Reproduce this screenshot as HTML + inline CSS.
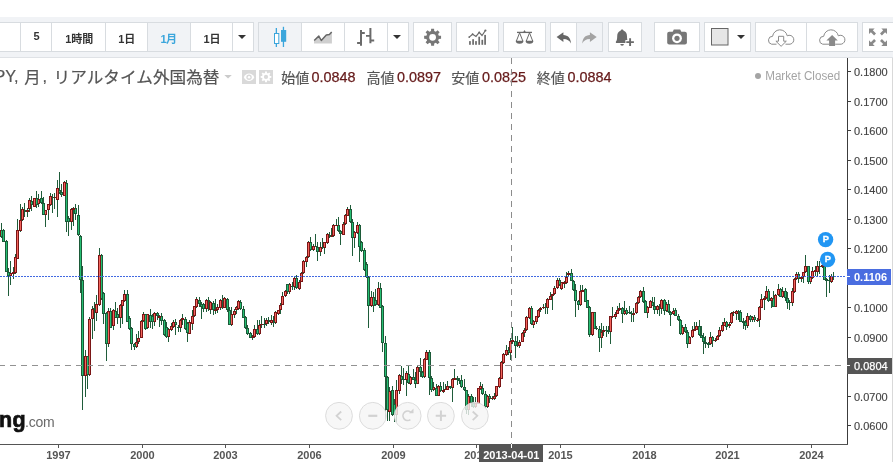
<!DOCTYPE html>
<html><head><meta charset="utf-8"><title>chart</title>
<style>
html,body{margin:0;padding:0;background:#fff;}
body{width:893px;height:462px;overflow:hidden;position:relative;font-family:"Liberation Sans","Noto Sans CJK JP",sans-serif;}
#tb{position:absolute;left:0;top:17px;width:893px;height:41px;background:#f1f3f6;border-bottom:1px solid #dfe2e6;box-sizing:border-box;}
.g{position:absolute;top:5px;height:30px;box-sizing:border-box;border:1px solid #d8dce0;background:#fff;}
.sp{position:absolute;top:0;width:1px;height:28px;background:#d8dce0;}
.sel{position:absolute;top:0;height:28px;background:#f1f3f6;}
svg{position:absolute;left:0;top:0;will-change:transform;}
svg text{font-family:"Liberation Sans","Noto Sans CJK JP",sans-serif;}
.tb{font-size:11px;font-weight:bold;}
</style></head><body>
<div id="tb">
<div class="g" style="left:-10px;width:264px"><div class="sel" style="left:157px;width:42px"></div><div class="sp" style="left:29px"></div><div class="sp" style="left:60px"></div><div class="sp" style="left:114px"></div><div class="sp" style="left:156px"></div><div class="sp" style="left:199px"></div><div class="sp" style="left:241px"></div></div>
<div class="g" style="left:258px;width:151px"><div class="sel" style="left:0px;width:42px"></div><div class="sp" style="left:42px"></div><div class="sp" style="left:85px"></div><div class="sp" style="left:128px"></div></div>
<div class="g" style="left:413px;width:39px"></div>
<div class="g" style="left:456px;width:43px"></div>
<div class="g" style="left:503px;width:43px"></div>
<div class="g" style="left:550px;width:53px"><div class="sel" style="left:26px;width:25px"></div><div class="sp" style="left:25px"></div></div>
<div class="g" style="left:608px;width:34px"></div>
<div class="g" style="left:654px;width:46px"></div>
<div class="g" style="left:704px;width:47px"></div>
<div class="g" style="left:755px;width:103px"><div class="sp" style="left:50px"></div></div>
<div class="g" style="left:862px;width:39px"></div>
</div>
<svg width="893" height="462" viewBox="0 0 893 462">
<g id="icons">
<path d="M238 35h8l-4.0 4z" fill="#333"/>
<path d="M393 35h8l-4.0 4z" fill="#333"/>
<path d="M737 35h8l-4.0 4z" fill="#333"/>
<rect x="275.7" y="28" width="1.3" height="19" fill="#3ba6dc"/>
<rect x="274.5" y="33.5" width="4.3" height="10" fill="#fff" stroke="#3ba6dc" stroke-width="1"/>
<rect x="282.8" y="26.8" width="1.3" height="20.2" fill="#3ba6dc"/>
<rect x="281" y="30" width="5.2" height="11.8" fill="#3ba6dc"/>
<path d="M314 43.4V40.6L318.8 36.1 321.3 40.5 326.3 34.9 329.4 34.6 331.9 32V43.4Z" fill="#cfcfcf"/>
<path d="M314.2 40.5L318.8 36.1 321.3 40.5 326.3 34.9 329.4 34.6 331.7 32.1" fill="none" stroke="#666" stroke-width="1.5" stroke-linejoin="round"/>
<path d="M360 30.1h2v15.7h-2z M357.1 42.1h3v1.8h-3z M362 32.1h2.8v1.8h-2.8z M369.4 28h2v15.3h-2z M366 35h3.5v1.8h-3.5z M371.4 39.6h2.8v1.8h-2.8z" fill="#6a6a6a"/>
<path d="M438.80 35.71 L441.07 35.82 L441.07 38.78 L438.80 38.89 L438.11 40.56 L439.64 42.25 L437.55 44.34 L435.86 42.81 L434.19 43.50 L434.08 45.77 L431.12 45.77 L431.01 43.50 L429.34 42.81 L427.65 44.34 L425.56 42.25 L427.09 40.56 L426.40 38.89 L424.13 38.78 L424.13 35.82 L426.40 35.71 L427.09 34.04 L425.56 32.35 L427.65 30.26 L429.34 31.79 L431.01 31.10 L431.12 28.83 L434.08 28.83 L434.19 31.10 L435.86 31.79 L437.55 30.26 L439.64 32.35 L438.11 34.04Z M436.00 37.30 A3.4 3.4 0 1 0 429.20 37.30 A3.4 3.4 0 1 0 436.00 37.30Z" fill="#777" fill-rule="evenodd"/>
<rect x="469.11" y="41.1" width="1.7" height="3.7" fill="#6a6a6a"/>
<rect x="472.25" y="39.2" width="1.7" height="5.6" fill="#6a6a6a"/>
<rect x="475.15" y="41.1" width="1.7" height="3.7" fill="#6a6a6a"/>
<rect x="478.35" y="36.7" width="1.7" height="8.1" fill="#6a6a6a"/>
<rect x="481.45" y="39.8" width="1.7" height="5.0" fill="#6a6a6a"/>
<rect x="484.25" y="34.9" width="1.7" height="9.9" fill="#6a6a6a"/>
<path d="M469.2 37.1L472.6 34.2 476 36.4 479.2 32.4 482 35.5 485.4 30.5" fill="none" stroke="#6a6a6a" stroke-width="1.2"/>
<circle cx="485.4" cy="30.5" r="1.1" fill="#6a6a6a"/><circle cx="479.2" cy="32.4" r="0.9" fill="#6a6a6a"/><circle cx="472.6" cy="34.2" r="0.9" fill="#6a6a6a"/><circle cx="469.2" cy="37.1" r="0.9" fill="#6a6a6a"/>
<path d="M517 32.4H532" stroke="#6a6a6a" stroke-width="1.3"/>
<path d="M523.3 32l1.2-2 1.2 2z" fill="#6a6a6a"/>
<path d="M519.6 32.8L516.4 41M519.6 32.8L522.8000000000001 41" stroke="#6a6a6a" stroke-width="1" fill="none"/>
<path d="M515.7 40.8h7.8a3.9 2.9 0 0 1 -7.8 0z" fill="#6a6a6a"/>
<path d="M529.5 32.8L526.3 41M529.5 32.8L532.7 41" stroke="#6a6a6a" stroke-width="1" fill="none"/>
<path d="M525.6 40.8h7.8a3.9 2.9 0 0 1 -7.8 0z" fill="#6a6a6a"/>
<path d="M563.4 32.2 L556.6 37.1 L563.4 42 L563.4 39.1 C567.2 39.1 569.6 40.6 571 43.6 C570.8 38.2 568 35.3 563.4 35.1 Z" fill="#666"/>
<path d="M563.4 32.2 L556.6 37.1 L563.4 42 L563.4 39.1 C567.2 39.1 569.6 40.6 571 43.6 C570.8 38.2 568 35.3 563.4 35.1 Z" fill="#a3a3a3" transform="translate(1153.3,0) scale(-1,1)"/>
<path d="M622.1 29.4c0.9 0 1.5 0.6 1.5 1.4c2.3 0.8 3.4 2.8 3.4 5.4c0 3 0.5 4.6 1.3 5.4v1.4h-12.4v-1.4c0.8-0.8 1.3-2.4 1.3-5.4c0-2.6 1.1-4.6 3.4-5.4c0-0.8 0.6-1.4 1.5-1.4z" fill="#6a6a6a"/>
<path d="M620.3 44h3.6a1.8 1.8 0 0 1 -3.6 0z" fill="#6a6a6a"/>
<path d="M630.1 37.4v9.4M625.4 42.1h9.4" stroke="#fff" stroke-width="4"/>
<path d="M630.1 38.3v7.6M626.3 42.1h7.6" stroke="#6a6a6a" stroke-width="1.9"/>
<rect x="667.2" y="31.8" width="19.7" height="12.8" rx="2" fill="#777"/>
<path d="M672.6 32l1.2-2.6h6.4l1.2 2.6z" fill="#777"/>
<circle cx="677" cy="38.3" r="4.9" fill="#fff"/><circle cx="677" cy="38.3" r="2.6" fill="#777"/>
<rect x="711.5" y="28.5" width="16.5" height="16.5" fill="#e6e6e6" stroke="#666" stroke-width="1"/>
<path d="M771.6 44.2 A4 4 0 0 1 772.6 36.3 A7.4 7.4 0 0 1 787.2 35.8 A4.5 4.5 0 1 1 790.1 44.2" fill="none" stroke="#8a8a8a" stroke-width="1"/>
<path d="M771.6 44.2H776.5M785.5 44.2H790.1" stroke="#8a8a8a" stroke-width="1"/>
<path d="M778.5 36.3h5.2v4.9h2.6l-5.2 5.1-5.2-5.1h2.6z" fill="#fff" stroke="#8a8a8a" stroke-width="1" stroke-linejoin="round"/>
<path d="M822.7 44.2 A4 4 0 0 1 823.7 36.3 A7.4 7.4 0 0 1 838.3 35.8 A4.5 4.5 0 1 1 841.2 44.2" fill="none" stroke="#8a8a8a" stroke-width="1"/>
<path d="M822.7 44.2H829.2M835.2 44.2H841.2" stroke="#8a8a8a" stroke-width="1"/>
<path d="M832.1 35.1l5.7 5.5h-2.7v5.3h-6v-5.3h-2.7z" fill="#8a8a8a"/>
<path d="M869 28.4h5.7l-1.9 1.9 3.2 3.2-1.9 1.9-3.2-3.2-1.9 1.9z" fill="#8a8a8a"/>
<path d="M887 28.4h-5.7l1.9 1.9-3.2 3.2 1.9 1.9 3.2-3.2 1.9 1.9z" fill="#8a8a8a"/>
<path d="M869 46h5.7l-1.9-1.9 3.2-3.2-1.9-1.9-3.2 3.2-1.9-1.9z" fill="#8a8a8a"/>
<path d="M887 46h-5.7l1.9-1.9-3.2-3.2 1.9-1.9 3.2 3.2 1.9-1.9z" fill="#8a8a8a"/>
<text x="33.4" y="39.9" class="tb" style="fill:#333">5</text>
<text x="65.3" y="42.9" class="tb" style="fill:#333">1</text>
<text x="71.3" y="42.9" class="tb" style="fill:#333">時間</text>
<text x="118.3" y="42.9" class="tb" style="fill:#333">1</text>
<text x="124.3" y="42.9" class="tb" style="fill:#333">日</text>
<text x="160.4" y="42.9" class="tb" style="fill:#3ba6dc">1</text>
<text x="165.9" y="42.9" class="tb" style="fill:#3ba6dc">月</text>
<text x="203.5" y="42.9" class="tb" style="fill:#333">1</text>
<text x="209.5" y="42.9" class="tb" style="fill:#333">日</text>
</g>
<g id="lines" shape-rendering="crispEdges">

</g>
<g id="candles" shape-rendering="crispEdges">
<rect x="-1" y="228" width="1" height="8" fill="#1f5c3a"/>
<rect x="1" y="223" width="1" height="15" fill="#1f5c3a"/>
<rect x="3" y="229" width="1" height="13" fill="#1f5c3a"/>
<rect x="6" y="240" width="1" height="32" fill="#1f5c3a"/>
<rect x="8" y="268" width="1" height="28" fill="#1f5c3a"/>
<rect x="10" y="261" width="1" height="24" fill="#1f5c3a"/>
<rect x="13" y="267" width="1" height="12" fill="#1f5c3a"/>
<rect x="15" y="254" width="1" height="20" fill="#1f5c3a"/>
<rect x="17" y="219" width="1" height="40" fill="#1f5c3a"/>
<rect x="20" y="204" width="1" height="28" fill="#1f5c3a"/>
<rect x="22" y="207" width="1" height="14" fill="#1f5c3a"/>
<rect x="24" y="203" width="1" height="14" fill="#1f5c3a"/>
<rect x="27" y="208" width="1" height="9" fill="#1f5c3a"/>
<rect x="29" y="198" width="1" height="14" fill="#1f5c3a"/>
<rect x="31" y="196" width="1" height="15" fill="#1f5c3a"/>
<rect x="34" y="198" width="1" height="9" fill="#1f5c3a"/>
<rect x="36" y="191" width="1" height="17" fill="#1f5c3a"/>
<rect x="38" y="194" width="1" height="13" fill="#1f5c3a"/>
<rect x="41" y="191" width="1" height="13" fill="#1f5c3a"/>
<rect x="43" y="197" width="1" height="18" fill="#1f5c3a"/>
<rect x="45" y="210" width="1" height="17" fill="#1f5c3a"/>
<rect x="48" y="204" width="1" height="16" fill="#1f5c3a"/>
<rect x="50" y="193" width="1" height="13" fill="#1f5c3a"/>
<rect x="52" y="194" width="1" height="19" fill="#1f5c3a"/>
<rect x="54" y="193" width="1" height="16" fill="#1f5c3a"/>
<rect x="57" y="180" width="1" height="37" fill="#1f5c3a"/>
<rect x="59" y="172" width="1" height="22" fill="#1f5c3a"/>
<rect x="61" y="184" width="1" height="13" fill="#1f5c3a"/>
<rect x="64" y="181" width="1" height="15" fill="#1f5c3a"/>
<rect x="66" y="180" width="1" height="52" fill="#1f5c3a"/>
<rect x="68" y="216" width="1" height="20" fill="#1f5c3a"/>
<rect x="71" y="208" width="1" height="22" fill="#1f5c3a"/>
<rect x="73" y="207" width="1" height="19" fill="#1f5c3a"/>
<rect x="75" y="204" width="1" height="16" fill="#1f5c3a"/>
<rect x="78" y="205" width="1" height="31" fill="#1f5c3a"/>
<rect x="80" y="235" width="1" height="58" fill="#1f5c3a"/>
<rect x="82" y="266" width="1" height="144" fill="#1f5c3a"/>
<rect x="85" y="350" width="1" height="47" fill="#1f5c3a"/>
<rect x="87" y="356" width="1" height="33" fill="#1f5c3a"/>
<rect x="89" y="317" width="1" height="59" fill="#1f5c3a"/>
<rect x="92" y="306" width="1" height="33" fill="#1f5c3a"/>
<rect x="94" y="302" width="1" height="29" fill="#1f5c3a"/>
<rect x="96" y="295" width="1" height="26" fill="#1f5c3a"/>
<rect x="99" y="248" width="1" height="58" fill="#1f5c3a"/>
<rect x="101" y="254" width="1" height="46" fill="#1f5c3a"/>
<rect x="103" y="292" width="1" height="32" fill="#1f5c3a"/>
<rect x="106" y="312" width="1" height="49" fill="#1f5c3a"/>
<rect x="108" y="308" width="1" height="39" fill="#1f5c3a"/>
<rect x="110" y="308" width="1" height="20" fill="#1f5c3a"/>
<rect x="113" y="309" width="1" height="21" fill="#1f5c3a"/>
<rect x="115" y="302" width="1" height="16" fill="#1f5c3a"/>
<rect x="117" y="308" width="1" height="16" fill="#1f5c3a"/>
<rect x="120" y="304" width="1" height="24" fill="#1f5c3a"/>
<rect x="122" y="300" width="1" height="24" fill="#1f5c3a"/>
<rect x="124" y="290" width="1" height="12" fill="#1f5c3a"/>
<rect x="127" y="290" width="1" height="32" fill="#1f5c3a"/>
<rect x="129" y="316" width="1" height="14" fill="#1f5c3a"/>
<rect x="131" y="327" width="1" height="23" fill="#1f5c3a"/>
<rect x="134" y="343" width="1" height="7" fill="#1f5c3a"/>
<rect x="136" y="334" width="1" height="14" fill="#1f5c3a"/>
<rect x="138" y="331" width="1" height="13" fill="#1f5c3a"/>
<rect x="141" y="320" width="1" height="18" fill="#1f5c3a"/>
<rect x="143" y="312" width="1" height="10" fill="#1f5c3a"/>
<rect x="145" y="314" width="1" height="16" fill="#1f5c3a"/>
<rect x="147" y="314" width="1" height="15" fill="#1f5c3a"/>
<rect x="150" y="309" width="1" height="19" fill="#1f5c3a"/>
<rect x="152" y="314" width="1" height="15" fill="#1f5c3a"/>
<rect x="154" y="312" width="1" height="14" fill="#1f5c3a"/>
<rect x="157" y="312" width="1" height="8" fill="#1f5c3a"/>
<rect x="159" y="315" width="1" height="12" fill="#1f5c3a"/>
<rect x="161" y="313" width="1" height="12" fill="#1f5c3a"/>
<rect x="164" y="319" width="1" height="17" fill="#1f5c3a"/>
<rect x="166" y="322" width="1" height="16" fill="#1f5c3a"/>
<rect x="168" y="328" width="1" height="14" fill="#1f5c3a"/>
<rect x="171" y="323" width="1" height="8" fill="#1f5c3a"/>
<rect x="173" y="320" width="1" height="8" fill="#1f5c3a"/>
<rect x="175" y="319" width="1" height="16" fill="#1f5c3a"/>
<rect x="178" y="325" width="1" height="7" fill="#1f5c3a"/>
<rect x="180" y="319" width="1" height="13" fill="#1f5c3a"/>
<rect x="182" y="314" width="1" height="11" fill="#1f5c3a"/>
<rect x="185" y="317" width="1" height="13" fill="#1f5c3a"/>
<rect x="187" y="322" width="1" height="20" fill="#1f5c3a"/>
<rect x="189" y="320" width="1" height="14" fill="#1f5c3a"/>
<rect x="192" y="310" width="1" height="20" fill="#1f5c3a"/>
<rect x="194" y="306" width="1" height="11" fill="#1f5c3a"/>
<rect x="196" y="297" width="1" height="11" fill="#1f5c3a"/>
<rect x="199" y="297" width="1" height="10" fill="#1f5c3a"/>
<rect x="201" y="302" width="1" height="17" fill="#1f5c3a"/>
<rect x="203" y="303" width="1" height="9" fill="#1f5c3a"/>
<rect x="206" y="299" width="1" height="13" fill="#1f5c3a"/>
<rect x="208" y="297" width="1" height="14" fill="#1f5c3a"/>
<rect x="210" y="301" width="1" height="13" fill="#1f5c3a"/>
<rect x="213" y="301" width="1" height="14" fill="#1f5c3a"/>
<rect x="215" y="299" width="1" height="15" fill="#1f5c3a"/>
<rect x="217" y="304" width="1" height="9" fill="#1f5c3a"/>
<rect x="220" y="299" width="1" height="11" fill="#1f5c3a"/>
<rect x="222" y="295" width="1" height="14" fill="#1f5c3a"/>
<rect x="224" y="297" width="1" height="11" fill="#1f5c3a"/>
<rect x="227" y="298" width="1" height="14" fill="#1f5c3a"/>
<rect x="229" y="307" width="1" height="18" fill="#1f5c3a"/>
<rect x="231" y="307" width="1" height="19" fill="#1f5c3a"/>
<rect x="234" y="309" width="1" height="9" fill="#1f5c3a"/>
<rect x="236" y="306" width="1" height="8" fill="#1f5c3a"/>
<rect x="238" y="300" width="1" height="10" fill="#1f5c3a"/>
<rect x="240" y="300" width="1" height="10" fill="#1f5c3a"/>
<rect x="243" y="306" width="1" height="12" fill="#1f5c3a"/>
<rect x="245" y="316" width="1" height="13" fill="#1f5c3a"/>
<rect x="247" y="325" width="1" height="10" fill="#1f5c3a"/>
<rect x="250" y="332" width="1" height="6" fill="#1f5c3a"/>
<rect x="252" y="335" width="1" height="5" fill="#1f5c3a"/>
<rect x="254" y="325" width="1" height="13" fill="#1f5c3a"/>
<rect x="257" y="320" width="1" height="15" fill="#1f5c3a"/>
<rect x="259" y="320" width="1" height="15" fill="#1f5c3a"/>
<rect x="261" y="316" width="1" height="12" fill="#1f5c3a"/>
<rect x="264" y="318" width="1" height="10" fill="#1f5c3a"/>
<rect x="266" y="318" width="1" height="8" fill="#1f5c3a"/>
<rect x="268" y="317" width="1" height="7" fill="#1f5c3a"/>
<rect x="271" y="315" width="1" height="10" fill="#1f5c3a"/>
<rect x="273" y="316" width="1" height="11" fill="#1f5c3a"/>
<rect x="275" y="311" width="1" height="13" fill="#1f5c3a"/>
<rect x="278" y="310" width="1" height="5" fill="#1f5c3a"/>
<rect x="280" y="303" width="1" height="11" fill="#1f5c3a"/>
<rect x="282" y="292" width="1" height="13" fill="#1f5c3a"/>
<rect x="285" y="290" width="1" height="7" fill="#1f5c3a"/>
<rect x="287" y="284" width="1" height="10" fill="#1f5c3a"/>
<rect x="289" y="283" width="1" height="11" fill="#1f5c3a"/>
<rect x="292" y="282" width="1" height="8" fill="#1f5c3a"/>
<rect x="294" y="277" width="1" height="13" fill="#1f5c3a"/>
<rect x="296" y="275" width="1" height="14" fill="#1f5c3a"/>
<rect x="299" y="280" width="1" height="10" fill="#1f5c3a"/>
<rect x="301" y="272" width="1" height="10" fill="#1f5c3a"/>
<rect x="303" y="260" width="1" height="14" fill="#1f5c3a"/>
<rect x="306" y="256" width="1" height="11" fill="#1f5c3a"/>
<rect x="308" y="241" width="1" height="17" fill="#1f5c3a"/>
<rect x="310" y="237" width="1" height="14" fill="#1f5c3a"/>
<rect x="313" y="244" width="1" height="7" fill="#1f5c3a"/>
<rect x="315" y="234" width="1" height="13" fill="#1f5c3a"/>
<rect x="317" y="242" width="1" height="19" fill="#1f5c3a"/>
<rect x="320" y="242" width="1" height="14" fill="#1f5c3a"/>
<rect x="322" y="238" width="1" height="11" fill="#1f5c3a"/>
<rect x="324" y="242" width="1" height="12" fill="#1f5c3a"/>
<rect x="327" y="233" width="1" height="11" fill="#1f5c3a"/>
<rect x="329" y="232" width="1" height="6" fill="#1f5c3a"/>
<rect x="331" y="228" width="1" height="9" fill="#1f5c3a"/>
<rect x="333" y="224" width="1" height="13" fill="#1f5c3a"/>
<rect x="336" y="219" width="1" height="7" fill="#1f5c3a"/>
<rect x="338" y="217" width="1" height="15" fill="#1f5c3a"/>
<rect x="340" y="230" width="1" height="15" fill="#1f5c3a"/>
<rect x="343" y="222" width="1" height="13" fill="#1f5c3a"/>
<rect x="345" y="214" width="1" height="11" fill="#1f5c3a"/>
<rect x="347" y="207" width="1" height="9" fill="#1f5c3a"/>
<rect x="350" y="205" width="1" height="18" fill="#1f5c3a"/>
<rect x="352" y="219" width="1" height="37" fill="#1f5c3a"/>
<rect x="354" y="231" width="1" height="17" fill="#1f5c3a"/>
<rect x="357" y="222" width="1" height="12" fill="#1f5c3a"/>
<rect x="359" y="224" width="1" height="38" fill="#1f5c3a"/>
<rect x="361" y="241" width="1" height="11" fill="#1f5c3a"/>
<rect x="364" y="248" width="1" height="23" fill="#1f5c3a"/>
<rect x="366" y="262" width="1" height="16" fill="#1f5c3a"/>
<rect x="368" y="276" width="1" height="52" fill="#1f5c3a"/>
<rect x="371" y="291" width="1" height="16" fill="#1f5c3a"/>
<rect x="373" y="292" width="1" height="20" fill="#1f5c3a"/>
<rect x="375" y="289" width="1" height="17" fill="#1f5c3a"/>
<rect x="378" y="282" width="1" height="24" fill="#1f5c3a"/>
<rect x="380" y="283" width="1" height="25" fill="#1f5c3a"/>
<rect x="382" y="305" width="1" height="47" fill="#1f5c3a"/>
<rect x="385" y="336" width="1" height="84" fill="#1f5c3a"/>
<rect x="387" y="376" width="1" height="45" fill="#1f5c3a"/>
<rect x="389" y="387" width="1" height="34" fill="#1f5c3a"/>
<rect x="392" y="386" width="1" height="30" fill="#1f5c3a"/>
<rect x="394" y="399" width="1" height="23" fill="#1f5c3a"/>
<rect x="396" y="380" width="1" height="42" fill="#1f5c3a"/>
<rect x="399" y="374" width="1" height="20" fill="#1f5c3a"/>
<rect x="401" y="366" width="1" height="18" fill="#1f5c3a"/>
<rect x="403" y="368" width="1" height="17" fill="#1f5c3a"/>
<rect x="406" y="371" width="1" height="25" fill="#1f5c3a"/>
<rect x="408" y="366" width="1" height="18" fill="#1f5c3a"/>
<rect x="410" y="376" width="1" height="9" fill="#1f5c3a"/>
<rect x="413" y="369" width="1" height="11" fill="#1f5c3a"/>
<rect x="415" y="372" width="1" height="16" fill="#1f5c3a"/>
<rect x="417" y="366" width="1" height="18" fill="#1f5c3a"/>
<rect x="420" y="358" width="1" height="19" fill="#1f5c3a"/>
<rect x="422" y="371" width="1" height="7" fill="#1f5c3a"/>
<rect x="424" y="358" width="1" height="20" fill="#1f5c3a"/>
<rect x="426" y="350" width="1" height="10" fill="#1f5c3a"/>
<rect x="429" y="350" width="1" height="45" fill="#1f5c3a"/>
<rect x="431" y="376" width="1" height="16" fill="#1f5c3a"/>
<rect x="433" y="382" width="1" height="9" fill="#1f5c3a"/>
<rect x="436" y="384" width="1" height="12" fill="#1f5c3a"/>
<rect x="438" y="385" width="1" height="11" fill="#1f5c3a"/>
<rect x="440" y="382" width="1" height="10" fill="#1f5c3a"/>
<rect x="443" y="382" width="1" height="11" fill="#1f5c3a"/>
<rect x="445" y="384" width="1" height="6" fill="#1f5c3a"/>
<rect x="447" y="381" width="1" height="9" fill="#1f5c3a"/>
<rect x="450" y="386" width="1" height="3" fill="#1f5c3a"/>
<rect x="452" y="378" width="1" height="24" fill="#1f5c3a"/>
<rect x="454" y="369" width="1" height="11" fill="#1f5c3a"/>
<rect x="457" y="376" width="1" height="9" fill="#1f5c3a"/>
<rect x="459" y="378" width="1" height="6" fill="#1f5c3a"/>
<rect x="461" y="375" width="1" height="13" fill="#1f5c3a"/>
<rect x="464" y="379" width="1" height="12" fill="#1f5c3a"/>
<rect x="466" y="390" width="1" height="24" fill="#1f5c3a"/>
<rect x="468" y="394" width="1" height="21" fill="#1f5c3a"/>
<rect x="471" y="394" width="1" height="13" fill="#1f5c3a"/>
<rect x="473" y="397" width="1" height="11" fill="#1f5c3a"/>
<rect x="475" y="397" width="1" height="11" fill="#1f5c3a"/>
<rect x="478" y="388" width="1" height="16" fill="#1f5c3a"/>
<rect x="480" y="382" width="1" height="8" fill="#1f5c3a"/>
<rect x="482" y="384" width="1" height="11" fill="#1f5c3a"/>
<rect x="485" y="391" width="1" height="17" fill="#1f5c3a"/>
<rect x="487" y="395" width="1" height="13" fill="#1f5c3a"/>
<rect x="489" y="394" width="1" height="9" fill="#1f5c3a"/>
<rect x="492" y="396" width="1" height="4" fill="#1f5c3a"/>
<rect x="494" y="393" width="1" height="7" fill="#1f5c3a"/>
<rect x="496" y="386" width="1" height="11" fill="#1f5c3a"/>
<rect x="499" y="377" width="1" height="11" fill="#1f5c3a"/>
<rect x="501" y="361" width="1" height="18" fill="#1f5c3a"/>
<rect x="503" y="353" width="1" height="11" fill="#1f5c3a"/>
<rect x="506" y="345" width="1" height="11" fill="#1f5c3a"/>
<rect x="508" y="347" width="1" height="8" fill="#1f5c3a"/>
<rect x="510" y="338" width="1" height="22" fill="#1f5c3a"/>
<rect x="512" y="327" width="1" height="17" fill="#1f5c3a"/>
<rect x="515" y="336" width="1" height="22" fill="#1f5c3a"/>
<rect x="517" y="336" width="1" height="11" fill="#1f5c3a"/>
<rect x="519" y="340" width="1" height="8" fill="#1f5c3a"/>
<rect x="522" y="332" width="1" height="10" fill="#1f5c3a"/>
<rect x="524" y="328" width="1" height="9" fill="#1f5c3a"/>
<rect x="526" y="316" width="1" height="15" fill="#1f5c3a"/>
<rect x="529" y="307" width="1" height="12" fill="#1f5c3a"/>
<rect x="531" y="306" width="1" height="19" fill="#1f5c3a"/>
<rect x="533" y="320" width="1" height="8" fill="#1f5c3a"/>
<rect x="536" y="316" width="1" height="8" fill="#1f5c3a"/>
<rect x="538" y="309" width="1" height="9" fill="#1f5c3a"/>
<rect x="540" y="307" width="1" height="5" fill="#1f5c3a"/>
<rect x="543" y="304" width="1" height="5" fill="#1f5c3a"/>
<rect x="545" y="303" width="1" height="11" fill="#1f5c3a"/>
<rect x="547" y="298" width="1" height="16" fill="#1f5c3a"/>
<rect x="550" y="292" width="1" height="8" fill="#1f5c3a"/>
<rect x="552" y="294" width="1" height="16" fill="#1f5c3a"/>
<rect x="554" y="286" width="1" height="9" fill="#1f5c3a"/>
<rect x="557" y="278" width="1" height="11" fill="#1f5c3a"/>
<rect x="559" y="278" width="1" height="8" fill="#1f5c3a"/>
<rect x="561" y="282" width="1" height="8" fill="#1f5c3a"/>
<rect x="564" y="281" width="1" height="7" fill="#1f5c3a"/>
<rect x="566" y="272" width="1" height="12" fill="#1f5c3a"/>
<rect x="568" y="271" width="1" height="6" fill="#1f5c3a"/>
<rect x="571" y="269" width="1" height="12" fill="#1f5c3a"/>
<rect x="573" y="280" width="1" height="11" fill="#1f5c3a"/>
<rect x="575" y="284" width="1" height="33" fill="#1f5c3a"/>
<rect x="578" y="300" width="1" height="10" fill="#1f5c3a"/>
<rect x="580" y="285" width="1" height="21" fill="#1f5c3a"/>
<rect x="582" y="285" width="1" height="7" fill="#1f5c3a"/>
<rect x="585" y="288" width="1" height="14" fill="#1f5c3a"/>
<rect x="587" y="300" width="1" height="8" fill="#1f5c3a"/>
<rect x="589" y="306" width="1" height="31" fill="#1f5c3a"/>
<rect x="592" y="312" width="1" height="24" fill="#1f5c3a"/>
<rect x="594" y="312" width="1" height="17" fill="#1f5c3a"/>
<rect x="596" y="326" width="1" height="4" fill="#1f5c3a"/>
<rect x="599" y="326" width="1" height="26" fill="#1f5c3a"/>
<rect x="601" y="323" width="1" height="25" fill="#1f5c3a"/>
<rect x="603" y="326" width="1" height="10" fill="#1f5c3a"/>
<rect x="606" y="326" width="1" height="11" fill="#1f5c3a"/>
<rect x="608" y="326" width="1" height="8" fill="#1f5c3a"/>
<rect x="610" y="316" width="1" height="28" fill="#1f5c3a"/>
<rect x="612" y="307" width="1" height="11" fill="#1f5c3a"/>
<rect x="615" y="312" width="1" height="7" fill="#1f5c3a"/>
<rect x="617" y="306" width="1" height="8" fill="#1f5c3a"/>
<rect x="619" y="303" width="1" height="8" fill="#1f5c3a"/>
<rect x="622" y="307" width="1" height="16" fill="#1f5c3a"/>
<rect x="624" y="301" width="1" height="14" fill="#1f5c3a"/>
<rect x="626" y="308" width="1" height="7" fill="#1f5c3a"/>
<rect x="629" y="306" width="1" height="8" fill="#1f5c3a"/>
<rect x="631" y="311" width="1" height="11" fill="#1f5c3a"/>
<rect x="633" y="308" width="1" height="14" fill="#1f5c3a"/>
<rect x="636" y="302" width="1" height="12" fill="#1f5c3a"/>
<rect x="638" y="296" width="1" height="8" fill="#1f5c3a"/>
<rect x="640" y="290" width="1" height="8" fill="#1f5c3a"/>
<rect x="643" y="287" width="1" height="16" fill="#1f5c3a"/>
<rect x="645" y="300" width="1" height="13" fill="#1f5c3a"/>
<rect x="647" y="306" width="1" height="12" fill="#1f5c3a"/>
<rect x="650" y="300" width="1" height="8" fill="#1f5c3a"/>
<rect x="652" y="297" width="1" height="9" fill="#1f5c3a"/>
<rect x="654" y="297" width="1" height="17" fill="#1f5c3a"/>
<rect x="657" y="305" width="1" height="9" fill="#1f5c3a"/>
<rect x="659" y="304" width="1" height="12" fill="#1f5c3a"/>
<rect x="661" y="299" width="1" height="15" fill="#1f5c3a"/>
<rect x="664" y="299" width="1" height="16" fill="#1f5c3a"/>
<rect x="666" y="302" width="1" height="10" fill="#1f5c3a"/>
<rect x="668" y="300" width="1" height="13" fill="#1f5c3a"/>
<rect x="670" y="311" width="1" height="15" fill="#1f5c3a"/>
<rect x="673" y="308" width="1" height="7" fill="#1f5c3a"/>
<rect x="675" y="308" width="1" height="8" fill="#1f5c3a"/>
<rect x="678" y="314" width="1" height="7" fill="#1f5c3a"/>
<rect x="680" y="319" width="1" height="16" fill="#1f5c3a"/>
<rect x="682" y="325" width="1" height="10" fill="#1f5c3a"/>
<rect x="685" y="324" width="1" height="9" fill="#1f5c3a"/>
<rect x="687" y="330" width="1" height="18" fill="#1f5c3a"/>
<rect x="689" y="336" width="1" height="8" fill="#1f5c3a"/>
<rect x="692" y="326" width="1" height="12" fill="#1f5c3a"/>
<rect x="694" y="322" width="1" height="9" fill="#1f5c3a"/>
<rect x="696" y="322" width="1" height="8" fill="#1f5c3a"/>
<rect x="699" y="320" width="1" height="16" fill="#1f5c3a"/>
<rect x="701" y="326" width="1" height="12" fill="#1f5c3a"/>
<rect x="703" y="333" width="1" height="21" fill="#1f5c3a"/>
<rect x="705" y="336" width="1" height="12" fill="#1f5c3a"/>
<rect x="708" y="342" width="1" height="6" fill="#1f5c3a"/>
<rect x="710" y="332" width="1" height="13" fill="#1f5c3a"/>
<rect x="712" y="336" width="1" height="11" fill="#1f5c3a"/>
<rect x="715" y="338" width="1" height="4" fill="#1f5c3a"/>
<rect x="717" y="335" width="1" height="5" fill="#1f5c3a"/>
<rect x="719" y="327" width="1" height="10" fill="#1f5c3a"/>
<rect x="722" y="322" width="1" height="10" fill="#1f5c3a"/>
<rect x="724" y="318" width="1" height="8" fill="#1f5c3a"/>
<rect x="726" y="321" width="1" height="9" fill="#1f5c3a"/>
<rect x="729" y="322" width="1" height="6" fill="#1f5c3a"/>
<rect x="731" y="312" width="1" height="12" fill="#1f5c3a"/>
<rect x="733" y="311" width="1" height="5" fill="#1f5c3a"/>
<rect x="736" y="310" width="1" height="10" fill="#1f5c3a"/>
<rect x="738" y="310" width="1" height="10" fill="#1f5c3a"/>
<rect x="740" y="310" width="1" height="12" fill="#1f5c3a"/>
<rect x="743" y="318" width="1" height="11" fill="#1f5c3a"/>
<rect x="745" y="320" width="1" height="10" fill="#1f5c3a"/>
<rect x="747" y="313" width="1" height="15" fill="#1f5c3a"/>
<rect x="750" y="315" width="1" height="7" fill="#1f5c3a"/>
<rect x="752" y="316" width="1" height="6" fill="#1f5c3a"/>
<rect x="754" y="315" width="1" height="7" fill="#1f5c3a"/>
<rect x="757" y="318" width="1" height="4" fill="#1f5c3a"/>
<rect x="759" y="306" width="1" height="21" fill="#1f5c3a"/>
<rect x="761" y="294" width="1" height="14" fill="#1f5c3a"/>
<rect x="764" y="296" width="1" height="14" fill="#1f5c3a"/>
<rect x="766" y="286" width="1" height="13" fill="#1f5c3a"/>
<rect x="768" y="289" width="1" height="13" fill="#1f5c3a"/>
<rect x="771" y="297" width="1" height="11" fill="#1f5c3a"/>
<rect x="773" y="291" width="1" height="16" fill="#1f5c3a"/>
<rect x="775" y="294" width="1" height="13" fill="#1f5c3a"/>
<rect x="778" y="284" width="1" height="12" fill="#1f5c3a"/>
<rect x="780" y="288" width="1" height="9" fill="#1f5c3a"/>
<rect x="782" y="287" width="1" height="11" fill="#1f5c3a"/>
<rect x="785" y="288" width="1" height="13" fill="#1f5c3a"/>
<rect x="787" y="292" width="1" height="17" fill="#1f5c3a"/>
<rect x="789" y="300" width="1" height="10" fill="#1f5c3a"/>
<rect x="792" y="288" width="1" height="18" fill="#1f5c3a"/>
<rect x="794" y="278" width="1" height="15" fill="#1f5c3a"/>
<rect x="796" y="272" width="1" height="8" fill="#1f5c3a"/>
<rect x="798" y="272" width="1" height="11" fill="#1f5c3a"/>
<rect x="801" y="276" width="1" height="6" fill="#1f5c3a"/>
<rect x="803" y="272" width="1" height="11" fill="#1f5c3a"/>
<rect x="805" y="255" width="1" height="18" fill="#1f5c3a"/>
<rect x="808" y="266" width="1" height="18" fill="#1f5c3a"/>
<rect x="810" y="276" width="1" height="8" fill="#1f5c3a"/>
<rect x="812" y="267" width="1" height="12" fill="#1f5c3a"/>
<rect x="815" y="266" width="1" height="10" fill="#1f5c3a"/>
<rect x="817" y="261" width="1" height="15" fill="#1f5c3a"/>
<rect x="819" y="261" width="1" height="13" fill="#1f5c3a"/>
<rect x="822" y="264" width="1" height="4" fill="#1f5c3a"/>
<rect x="824" y="264" width="1" height="16" fill="#1f5c3a"/>
<rect x="826" y="278" width="1" height="19" fill="#1f5c3a"/>
<rect x="829" y="275" width="1" height="18" fill="#1f5c3a"/>
<rect x="831" y="274" width="1" height="9" fill="#1f5c3a"/>
<rect x="833" y="272" width="1" height="8" fill="#1f5c3a"/>
<rect x="832" y="276" width="3" height="1" fill="#1c5a38"/>
<rect x="830" y="276" width="3" height="6" fill="#7a1616"/>
<rect x="828" y="280" width="3" height="1" fill="#1c5a38"/>
<rect x="825" y="279" width="3" height="2" fill="#1c5a38"/>
<rect x="823" y="266" width="3" height="14" fill="#1c5a38"/>
<rect x="821" y="265" width="3" height="2" fill="#7a1616"/>
<rect x="818" y="266" width="3" height="1" fill="#1c5a38"/>
<rect x="816" y="266" width="3" height="6" fill="#7a1616"/>
<rect x="814" y="270" width="3" height="2" fill="#7a1616"/>
<rect x="811" y="271" width="3" height="7" fill="#7a1616"/>
<rect x="809" y="277" width="3" height="5" fill="#7a1616"/>
<rect x="807" y="266" width="3" height="16" fill="#1c5a38"/>
<rect x="804" y="266" width="3" height="6" fill="#7a1616"/>
<rect x="802" y="272" width="3" height="5" fill="#7a1616"/>
<rect x="800" y="277" width="3" height="2" fill="#7a1616"/>
<rect x="797" y="274" width="3" height="5" fill="#1c5a38"/>
<rect x="795" y="274" width="3" height="5" fill="#7a1616"/>
<rect x="793" y="279" width="3" height="13" fill="#7a1616"/>
<rect x="791" y="291" width="3" height="12" fill="#7a1616"/>
<rect x="788" y="302" width="3" height="1" fill="#1c5a38"/>
<rect x="786" y="298" width="3" height="5" fill="#1c5a38"/>
<rect x="784" y="291" width="3" height="7" fill="#1c5a38"/>
<rect x="781" y="291" width="3" height="6" fill="#7a1616"/>
<rect x="779" y="289" width="3" height="8" fill="#1c5a38"/>
<rect x="777" y="289" width="3" height="6" fill="#7a1616"/>
<rect x="774" y="295" width="3" height="12" fill="#7a1616"/>
<rect x="772" y="298" width="3" height="9" fill="#1c5a38"/>
<rect x="770" y="298" width="3" height="3" fill="#7a1616"/>
<rect x="767" y="291" width="3" height="10" fill="#1c5a38"/>
<rect x="765" y="291" width="3" height="7" fill="#7a1616"/>
<rect x="763" y="298" width="3" height="2" fill="#7a1616"/>
<rect x="760" y="299" width="3" height="9" fill="#7a1616"/>
<rect x="758" y="307" width="3" height="13" fill="#7a1616"/>
<rect x="756" y="320" width="3" height="1" fill="#7a1616"/>
<rect x="753" y="317" width="3" height="3" fill="#1c5a38"/>
<rect x="751" y="317" width="3" height="3" fill="#7a1616"/>
<rect x="749" y="316" width="3" height="4" fill="#1c5a38"/>
<rect x="746" y="316" width="3" height="10" fill="#7a1616"/>
<rect x="744" y="322" width="3" height="4" fill="#1c5a38"/>
<rect x="742" y="321" width="3" height="2" fill="#1c5a38"/>
<rect x="739" y="312" width="3" height="10" fill="#1c5a38"/>
<rect x="737" y="311" width="3" height="1" fill="#1c5a38"/>
<rect x="735" y="311" width="3" height="3" fill="#7a1616"/>
<rect x="732" y="312" width="3" height="1" fill="#7a1616"/>
<rect x="730" y="313" width="3" height="10" fill="#7a1616"/>
<rect x="728" y="324" width="3" height="2" fill="#7a1616"/>
<rect x="725" y="322" width="3" height="5" fill="#1c5a38"/>
<rect x="723" y="322" width="3" height="4" fill="#7a1616"/>
<rect x="721" y="325" width="3" height="6" fill="#7a1616"/>
<rect x="718" y="330" width="3" height="6" fill="#7a1616"/>
<rect x="716" y="336" width="3" height="4" fill="#7a1616"/>
<rect x="714" y="340" width="3" height="1" fill="#7a1616"/>
<rect x="711" y="337" width="3" height="4" fill="#1c5a38"/>
<rect x="709" y="337" width="3" height="7" fill="#7a1616"/>
<rect x="707" y="343" width="3" height="2" fill="#1c5a38"/>
<rect x="704" y="342" width="3" height="2" fill="#1c5a38"/>
<rect x="702" y="337" width="3" height="5" fill="#1c5a38"/>
<rect x="700" y="335" width="3" height="3" fill="#1c5a38"/>
<rect x="698" y="326" width="3" height="9" fill="#1c5a38"/>
<rect x="695" y="326" width="3" height="4" fill="#7a1616"/>
<rect x="693" y="329" width="3" height="2" fill="#7a1616"/>
<rect x="691" y="330" width="3" height="7" fill="#7a1616"/>
<rect x="688" y="337" width="3" height="7" fill="#7a1616"/>
<rect x="686" y="332" width="3" height="12" fill="#1c5a38"/>
<rect x="684" y="327" width="3" height="5" fill="#1c5a38"/>
<rect x="681" y="327" width="3" height="7" fill="#7a1616"/>
<rect x="679" y="320" width="3" height="14" fill="#1c5a38"/>
<rect x="677" y="316" width="3" height="4" fill="#1c5a38"/>
<rect x="674" y="310" width="3" height="6" fill="#1c5a38"/>
<rect x="672" y="311" width="3" height="3" fill="#7a1616"/>
<rect x="669" y="312" width="3" height="3" fill="#1c5a38"/>
<rect x="667" y="304" width="3" height="8" fill="#1c5a38"/>
<rect x="665" y="304" width="3" height="7" fill="#7a1616"/>
<rect x="663" y="300" width="3" height="11" fill="#1c5a38"/>
<rect x="660" y="300" width="3" height="9" fill="#7a1616"/>
<rect x="658" y="307" width="3" height="2" fill="#1c5a38"/>
<rect x="656" y="306" width="3" height="4" fill="#7a1616"/>
<rect x="653" y="306" width="3" height="4" fill="#1c5a38"/>
<rect x="651" y="302" width="3" height="4" fill="#1c5a38"/>
<rect x="649" y="301" width="3" height="7" fill="#7a1616"/>
<rect x="646" y="307" width="3" height="6" fill="#7a1616"/>
<rect x="644" y="301" width="3" height="12" fill="#1c5a38"/>
<rect x="642" y="291" width="3" height="11" fill="#1c5a38"/>
<rect x="639" y="291" width="3" height="6" fill="#7a1616"/>
<rect x="637" y="297" width="3" height="6" fill="#7a1616"/>
<rect x="635" y="303" width="3" height="10" fill="#7a1616"/>
<rect x="632" y="313" width="3" height="2" fill="#7a1616"/>
<rect x="630" y="313" width="3" height="1" fill="#1c5a38"/>
<rect x="628" y="312" width="3" height="1" fill="#1c5a38"/>
<rect x="625" y="310" width="3" height="4" fill="#1c5a38"/>
<rect x="623" y="311" width="3" height="3" fill="#7a1616"/>
<rect x="621" y="308" width="3" height="6" fill="#1c5a38"/>
<rect x="618" y="308" width="3" height="2" fill="#7a1616"/>
<rect x="616" y="310" width="3" height="4" fill="#7a1616"/>
<rect x="614" y="314" width="3" height="3" fill="#7a1616"/>
<rect x="611" y="316" width="3" height="1" fill="#7a1616"/>
<rect x="609" y="316" width="3" height="16" fill="#7a1616"/>
<rect x="607" y="330" width="3" height="2" fill="#1c5a38"/>
<rect x="605" y="330" width="3" height="1" fill="#1c5a38"/>
<rect x="602" y="330" width="3" height="2" fill="#7a1616"/>
<rect x="600" y="332" width="3" height="6" fill="#7a1616"/>
<rect x="598" y="329" width="3" height="9" fill="#1c5a38"/>
<rect x="595" y="328" width="3" height="1" fill="#1c5a38"/>
<rect x="593" y="312" width="3" height="17" fill="#1c5a38"/>
<rect x="591" y="312" width="3" height="23" fill="#7a1616"/>
<rect x="588" y="307" width="3" height="28" fill="#1c5a38"/>
<rect x="586" y="300" width="3" height="8" fill="#1c5a38"/>
<rect x="584" y="289" width="3" height="13" fill="#1c5a38"/>
<rect x="581" y="290" width="3" height="2" fill="#7a1616"/>
<rect x="579" y="291" width="3" height="14" fill="#7a1616"/>
<rect x="577" y="301" width="3" height="4" fill="#1c5a38"/>
<rect x="574" y="290" width="3" height="11" fill="#1c5a38"/>
<rect x="572" y="281" width="3" height="9" fill="#1c5a38"/>
<rect x="570" y="273" width="3" height="8" fill="#1c5a38"/>
<rect x="567" y="273" width="3" height="2" fill="#7a1616"/>
<rect x="565" y="277" width="3" height="6" fill="#7a1616"/>
<rect x="563" y="282" width="3" height="2" fill="#7a1616"/>
<rect x="560" y="282" width="3" height="7" fill="#7a1616"/>
<rect x="558" y="280" width="3" height="5" fill="#1c5a38"/>
<rect x="556" y="280" width="3" height="8" fill="#7a1616"/>
<rect x="553" y="288" width="3" height="6" fill="#7a1616"/>
<rect x="551" y="294" width="3" height="2" fill="#7a1616"/>
<rect x="549" y="296" width="3" height="4" fill="#7a1616"/>
<rect x="546" y="299" width="3" height="9" fill="#7a1616"/>
<rect x="544" y="307" width="3" height="1" fill="#1c5a38"/>
<rect x="542" y="307" width="3" height="1" fill="#7a1616"/>
<rect x="539" y="308" width="3" height="2" fill="#7a1616"/>
<rect x="537" y="310" width="3" height="7" fill="#7a1616"/>
<rect x="535" y="316" width="3" height="6" fill="#7a1616"/>
<rect x="532" y="321" width="3" height="4" fill="#7a1616"/>
<rect x="530" y="308" width="3" height="16" fill="#1c5a38"/>
<rect x="528" y="308" width="3" height="10" fill="#7a1616"/>
<rect x="525" y="317" width="3" height="13" fill="#7a1616"/>
<rect x="523" y="330" width="3" height="3" fill="#7a1616"/>
<rect x="521" y="333" width="3" height="9" fill="#7a1616"/>
<rect x="518" y="342" width="3" height="4" fill="#7a1616"/>
<rect x="516" y="345" width="3" height="1" fill="#7a1616"/>
<rect x="514" y="341" width="3" height="5" fill="#1c5a38"/>
<rect x="511" y="340" width="3" height="2" fill="#7a1616"/>
<rect x="509" y="341" width="3" height="12" fill="#7a1616"/>
<rect x="507" y="350" width="3" height="3" fill="#1c5a38"/>
<rect x="505" y="350" width="3" height="5" fill="#7a1616"/>
<rect x="502" y="354" width="3" height="9" fill="#7a1616"/>
<rect x="500" y="362" width="3" height="17" fill="#7a1616"/>
<rect x="498" y="378" width="3" height="9" fill="#7a1616"/>
<rect x="495" y="386" width="3" height="10" fill="#7a1616"/>
<rect x="493" y="396" width="3" height="3" fill="#7a1616"/>
<rect x="491" y="398" width="3" height="1" fill="#7a1616"/>
<rect x="488" y="396" width="3" height="3" fill="#1c5a38"/>
<rect x="486" y="396" width="3" height="11" fill="#7a1616"/>
<rect x="484" y="394" width="3" height="13" fill="#1c5a38"/>
<rect x="481" y="388" width="3" height="6" fill="#1c5a38"/>
<rect x="479" y="386" width="3" height="3" fill="#7a1616"/>
<rect x="477" y="388" width="3" height="16" fill="#7a1616"/>
<rect x="474" y="403" width="3" height="4" fill="#7a1616"/>
<rect x="472" y="403" width="3" height="4" fill="#1c5a38"/>
<rect x="470" y="396" width="3" height="7" fill="#1c5a38"/>
<rect x="467" y="396" width="3" height="14" fill="#7a1616"/>
<rect x="465" y="390" width="3" height="20" fill="#1c5a38"/>
<rect x="463" y="387" width="3" height="3" fill="#1c5a38"/>
<rect x="460" y="380" width="3" height="7" fill="#1c5a38"/>
<rect x="458" y="380" width="3" height="1" fill="#1c5a38"/>
<rect x="456" y="378" width="3" height="2" fill="#1c5a38"/>
<rect x="453" y="378" width="3" height="2" fill="#7a1616"/>
<rect x="451" y="379" width="3" height="9" fill="#7a1616"/>
<rect x="449" y="386" width="3" height="2" fill="#1c5a38"/>
<rect x="446" y="386" width="3" height="4" fill="#7a1616"/>
<rect x="444" y="389" width="3" height="1" fill="#7a1616"/>
<rect x="442" y="390" width="3" height="2" fill="#7a1616"/>
<rect x="439" y="386" width="3" height="5" fill="#1c5a38"/>
<rect x="437" y="386" width="3" height="10" fill="#7a1616"/>
<rect x="435" y="388" width="3" height="8" fill="#1c5a38"/>
<rect x="432" y="387" width="3" height="3" fill="#7a1616"/>
<rect x="430" y="378" width="3" height="12" fill="#1c5a38"/>
<rect x="428" y="352" width="3" height="26" fill="#1c5a38"/>
<rect x="425" y="352" width="3" height="8" fill="#7a1616"/>
<rect x="423" y="359" width="3" height="18" fill="#7a1616"/>
<rect x="421" y="372" width="3" height="5" fill="#1c5a38"/>
<rect x="419" y="367" width="3" height="5" fill="#1c5a38"/>
<rect x="416" y="367" width="3" height="17" fill="#7a1616"/>
<rect x="414" y="380" width="3" height="4" fill="#1c5a38"/>
<rect x="412" y="377" width="3" height="3" fill="#1c5a38"/>
<rect x="409" y="377" width="3" height="7" fill="#7a1616"/>
<rect x="407" y="374" width="3" height="9" fill="#1c5a38"/>
<rect x="405" y="373" width="3" height="7" fill="#7a1616"/>
<rect x="402" y="379" width="3" height="1" fill="#1c5a38"/>
<rect x="400" y="376" width="3" height="4" fill="#1c5a38"/>
<rect x="398" y="375" width="3" height="16" fill="#7a1616"/>
<rect x="395" y="390" width="3" height="25" fill="#7a1616"/>
<rect x="393" y="404" width="3" height="11" fill="#1c5a38"/>
<rect x="391" y="390" width="3" height="25" fill="#1c5a38"/>
<rect x="388" y="391" width="3" height="21" fill="#7a1616"/>
<rect x="386" y="377" width="3" height="33" fill="#1c5a38"/>
<rect x="384" y="343" width="3" height="34" fill="#1c5a38"/>
<rect x="381" y="306" width="3" height="37" fill="#1c5a38"/>
<rect x="379" y="288" width="3" height="20" fill="#1c5a38"/>
<rect x="377" y="288" width="3" height="17" fill="#7a1616"/>
<rect x="374" y="300" width="3" height="5" fill="#1c5a38"/>
<rect x="372" y="297" width="3" height="9" fill="#1c5a38"/>
<rect x="370" y="297" width="3" height="9" fill="#7a1616"/>
<rect x="367" y="277" width="3" height="29" fill="#1c5a38"/>
<rect x="365" y="264" width="3" height="13" fill="#1c5a38"/>
<rect x="363" y="250" width="3" height="20" fill="#1c5a38"/>
<rect x="360" y="242" width="3" height="9" fill="#1c5a38"/>
<rect x="358" y="225" width="3" height="22" fill="#1c5a38"/>
<rect x="356" y="225" width="3" height="8" fill="#7a1616"/>
<rect x="353" y="232" width="3" height="6" fill="#7a1616"/>
<rect x="351" y="222" width="3" height="16" fill="#1c5a38"/>
<rect x="349" y="209" width="3" height="13" fill="#1c5a38"/>
<rect x="346" y="209" width="3" height="7" fill="#7a1616"/>
<rect x="344" y="215" width="3" height="9" fill="#7a1616"/>
<rect x="342" y="224" width="3" height="11" fill="#7a1616"/>
<rect x="339" y="231" width="3" height="3" fill="#1c5a38"/>
<rect x="337" y="225" width="3" height="6" fill="#1c5a38"/>
<rect x="335" y="225" width="3" height="1" fill="#7a1616"/>
<rect x="332" y="225" width="3" height="11" fill="#7a1616"/>
<rect x="330" y="235" width="3" height="2" fill="#7a1616"/>
<rect x="328" y="235" width="3" height="2" fill="#1c5a38"/>
<rect x="326" y="234" width="3" height="9" fill="#7a1616"/>
<rect x="323" y="242" width="3" height="6" fill="#7a1616"/>
<rect x="321" y="247" width="3" height="1" fill="#1c5a38"/>
<rect x="319" y="247" width="3" height="5" fill="#7a1616"/>
<rect x="316" y="247" width="3" height="5" fill="#1c5a38"/>
<rect x="314" y="246" width="3" height="1" fill="#1c5a38"/>
<rect x="312" y="246" width="3" height="4" fill="#7a1616"/>
<rect x="309" y="242" width="3" height="8" fill="#1c5a38"/>
<rect x="307" y="242" width="3" height="15" fill="#7a1616"/>
<rect x="305" y="257" width="3" height="5" fill="#7a1616"/>
<rect x="302" y="261" width="3" height="12" fill="#7a1616"/>
<rect x="300" y="273" width="3" height="9" fill="#7a1616"/>
<rect x="298" y="282" width="3" height="7" fill="#7a1616"/>
<rect x="295" y="278" width="3" height="10" fill="#1c5a38"/>
<rect x="293" y="278" width="3" height="9" fill="#7a1616"/>
<rect x="291" y="286" width="3" height="1" fill="#1c5a38"/>
<rect x="288" y="284" width="3" height="8" fill="#7a1616"/>
<rect x="286" y="284" width="3" height="8" fill="#1c5a38"/>
<rect x="284" y="291" width="3" height="5" fill="#7a1616"/>
<rect x="281" y="296" width="3" height="9" fill="#7a1616"/>
<rect x="279" y="305" width="3" height="5" fill="#7a1616"/>
<rect x="277" y="310" width="3" height="4" fill="#7a1616"/>
<rect x="274" y="312" width="3" height="11" fill="#7a1616"/>
<rect x="272" y="321" width="3" height="2" fill="#1c5a38"/>
<rect x="270" y="320" width="3" height="3" fill="#7a1616"/>
<rect x="267" y="320" width="3" height="2" fill="#1c5a38"/>
<rect x="265" y="320" width="3" height="4" fill="#7a1616"/>
<rect x="263" y="324" width="3" height="1" fill="#1c5a38"/>
<rect x="260" y="324" width="3" height="1" fill="#7a1616"/>
<rect x="258" y="325" width="3" height="9" fill="#7a1616"/>
<rect x="256" y="329" width="3" height="5" fill="#1c5a38"/>
<rect x="253" y="329" width="3" height="8" fill="#7a1616"/>
<rect x="251" y="336" width="3" height="2" fill="#7a1616"/>
<rect x="249" y="333" width="3" height="5" fill="#1c5a38"/>
<rect x="246" y="328" width="3" height="6" fill="#1c5a38"/>
<rect x="244" y="317" width="3" height="11" fill="#1c5a38"/>
<rect x="242" y="309" width="3" height="9" fill="#1c5a38"/>
<rect x="239" y="302" width="3" height="7" fill="#1c5a38"/>
<rect x="237" y="301" width="3" height="8" fill="#7a1616"/>
<rect x="235" y="307" width="3" height="3" fill="#7a1616"/>
<rect x="233" y="311" width="3" height="4" fill="#7a1616"/>
<rect x="230" y="314" width="3" height="11" fill="#7a1616"/>
<rect x="228" y="310" width="3" height="15" fill="#1c5a38"/>
<rect x="226" y="299" width="3" height="11" fill="#1c5a38"/>
<rect x="223" y="298" width="3" height="10" fill="#7a1616"/>
<rect x="221" y="300" width="3" height="1" fill="#1c5a38"/>
<rect x="219" y="300" width="3" height="8" fill="#7a1616"/>
<rect x="216" y="307" width="3" height="3" fill="#7a1616"/>
<rect x="214" y="309" width="3" height="2" fill="#7a1616"/>
<rect x="212" y="303" width="3" height="7" fill="#1c5a38"/>
<rect x="209" y="302" width="3" height="8" fill="#7a1616"/>
<rect x="207" y="300" width="3" height="2" fill="#1c5a38"/>
<rect x="205" y="300" width="3" height="9" fill="#7a1616"/>
<rect x="202" y="304" width="3" height="5" fill="#1c5a38"/>
<rect x="200" y="304" width="3" height="3" fill="#1c5a38"/>
<rect x="198" y="300" width="3" height="4" fill="#1c5a38"/>
<rect x="195" y="299" width="3" height="8" fill="#7a1616"/>
<rect x="193" y="306" width="3" height="10" fill="#7a1616"/>
<rect x="191" y="316" width="3" height="8" fill="#7a1616"/>
<rect x="188" y="322" width="3" height="12" fill="#7a1616"/>
<rect x="186" y="323" width="3" height="10" fill="#1c5a38"/>
<rect x="184" y="319" width="3" height="10" fill="#1c5a38"/>
<rect x="181" y="318" width="3" height="2" fill="#7a1616"/>
<rect x="179" y="320" width="3" height="8" fill="#7a1616"/>
<rect x="177" y="327" width="3" height="1" fill="#1c5a38"/>
<rect x="174" y="322" width="3" height="3" fill="#1c5a38"/>
<rect x="172" y="322" width="3" height="5" fill="#7a1616"/>
<rect x="170" y="326" width="3" height="4" fill="#7a1616"/>
<rect x="167" y="329" width="3" height="8" fill="#7a1616"/>
<rect x="165" y="327" width="3" height="10" fill="#1c5a38"/>
<rect x="163" y="320" width="3" height="15" fill="#1c5a38"/>
<rect x="160" y="316" width="3" height="5" fill="#1c5a38"/>
<rect x="158" y="316" width="3" height="2" fill="#7a1616"/>
<rect x="156" y="313" width="3" height="3" fill="#1c5a38"/>
<rect x="153" y="313" width="3" height="9" fill="#7a1616"/>
<rect x="151" y="316" width="3" height="6" fill="#1c5a38"/>
<rect x="149" y="315" width="3" height="7" fill="#1c5a38"/>
<rect x="146" y="314" width="3" height="14" fill="#7a1616"/>
<rect x="144" y="314" width="3" height="15" fill="#1c5a38"/>
<rect x="142" y="314" width="3" height="7" fill="#7a1616"/>
<rect x="140" y="321" width="3" height="17" fill="#7a1616"/>
<rect x="137" y="338" width="3" height="4" fill="#7a1616"/>
<rect x="135" y="342" width="3" height="5" fill="#7a1616"/>
<rect x="133" y="344" width="3" height="3" fill="#1c5a38"/>
<rect x="130" y="328" width="3" height="16" fill="#1c5a38"/>
<rect x="128" y="318" width="3" height="11" fill="#1c5a38"/>
<rect x="126" y="294" width="3" height="28" fill="#1c5a38"/>
<rect x="123" y="294" width="3" height="7" fill="#7a1616"/>
<rect x="121" y="300" width="3" height="6" fill="#7a1616"/>
<rect x="119" y="305" width="3" height="13" fill="#7a1616"/>
<rect x="116" y="314" width="3" height="4" fill="#1c5a38"/>
<rect x="114" y="311" width="3" height="7" fill="#1c5a38"/>
<rect x="112" y="310" width="3" height="16" fill="#7a1616"/>
<rect x="109" y="311" width="3" height="17" fill="#1c5a38"/>
<rect x="107" y="311" width="3" height="33" fill="#7a1616"/>
<rect x="105" y="313" width="3" height="31" fill="#1c5a38"/>
<rect x="102" y="293" width="3" height="21" fill="#1c5a38"/>
<rect x="100" y="255" width="3" height="44" fill="#1c5a38"/>
<rect x="98" y="255" width="3" height="50" fill="#7a1616"/>
<rect x="95" y="304" width="3" height="9" fill="#7a1616"/>
<rect x="93" y="308" width="3" height="2" fill="#1c5a38"/>
<rect x="91" y="309" width="3" height="10" fill="#7a1616"/>
<rect x="88" y="319" width="3" height="56" fill="#7a1616"/>
<rect x="86" y="356" width="3" height="19" fill="#1c5a38"/>
<rect x="84" y="356" width="3" height="20" fill="#7a1616"/>
<rect x="81" y="280" width="3" height="96" fill="#1c5a38"/>
<rect x="79" y="236" width="3" height="44" fill="#1c5a38"/>
<rect x="77" y="215" width="3" height="20" fill="#1c5a38"/>
<rect x="74" y="208" width="3" height="6" fill="#1c5a38"/>
<rect x="72" y="208" width="3" height="2" fill="#7a1616"/>
<rect x="70" y="209" width="3" height="13" fill="#7a1616"/>
<rect x="67" y="218" width="3" height="4" fill="#1c5a38"/>
<rect x="65" y="183" width="3" height="39" fill="#1c5a38"/>
<rect x="63" y="182" width="3" height="14" fill="#7a1616"/>
<rect x="60" y="192" width="3" height="3" fill="#1c5a38"/>
<rect x="58" y="190" width="3" height="3" fill="#1c5a38"/>
<rect x="56" y="188" width="3" height="12" fill="#7a1616"/>
<rect x="53" y="197" width="3" height="1" fill="#7a1616"/>
<rect x="51" y="197" width="3" height="1" fill="#1c5a38"/>
<rect x="49" y="196" width="3" height="9" fill="#7a1616"/>
<rect x="47" y="204" width="3" height="6" fill="#7a1616"/>
<rect x="44" y="210" width="3" height="5" fill="#7a1616"/>
<rect x="42" y="203" width="3" height="12" fill="#1c5a38"/>
<rect x="40" y="198" width="3" height="5" fill="#1c5a38"/>
<rect x="37" y="199" width="3" height="5" fill="#7a1616"/>
<rect x="35" y="198" width="3" height="7" fill="#1c5a38"/>
<rect x="33" y="198" width="3" height="9" fill="#7a1616"/>
<rect x="30" y="201" width="3" height="4" fill="#1c5a38"/>
<rect x="28" y="200" width="3" height="9" fill="#7a1616"/>
<rect x="26" y="210" width="3" height="2" fill="#7a1616"/>
<rect x="23" y="210" width="3" height="2" fill="#1c5a38"/>
<rect x="21" y="209" width="3" height="11" fill="#7a1616"/>
<rect x="19" y="220" width="3" height="11" fill="#7a1616"/>
<rect x="16" y="230" width="3" height="29" fill="#7a1616"/>
<rect x="14" y="257" width="3" height="16" fill="#7a1616"/>
<rect x="12" y="272" width="3" height="2" fill="#7a1616"/>
<rect x="9" y="273" width="3" height="3" fill="#7a1616"/>
<rect x="7" y="272" width="3" height="4" fill="#1c5a38"/>
<rect x="5" y="241" width="3" height="31" fill="#1c5a38"/>
<rect x="2" y="230" width="3" height="12" fill="#1c5a38"/>
<rect x="0" y="230" width="3" height="7" fill="#1c5a38"/>
<rect x="-2" y="230" width="3" height="6" fill="#7a1616"/>
<rect x="-1" y="231" width="1" height="4" fill="#f4645c"/>
<rect x="1" y="231" width="1" height="5" fill="#25bf73"/>
<rect x="3" y="231" width="1" height="10" fill="#25bf73"/>
<rect x="6" y="242" width="1" height="29" fill="#25bf73"/>
<rect x="8" y="273" width="1" height="2" fill="#25bf73"/>
<rect x="10" y="274" width="1" height="1" fill="#f4645c"/>
<rect x="15" y="258" width="1" height="14" fill="#f4645c"/>
<rect x="17" y="231" width="1" height="27" fill="#f4645c"/>
<rect x="20" y="221" width="1" height="9" fill="#f4645c"/>
<rect x="22" y="210" width="1" height="9" fill="#f4645c"/>
<rect x="29" y="201" width="1" height="7" fill="#f4645c"/>
<rect x="31" y="202" width="1" height="2" fill="#25bf73"/>
<rect x="34" y="199" width="1" height="7" fill="#f4645c"/>
<rect x="36" y="199" width="1" height="5" fill="#25bf73"/>
<rect x="38" y="200" width="1" height="3" fill="#f4645c"/>
<rect x="41" y="199" width="1" height="3" fill="#25bf73"/>
<rect x="43" y="204" width="1" height="10" fill="#25bf73"/>
<rect x="45" y="211" width="1" height="3" fill="#f4645c"/>
<rect x="48" y="205" width="1" height="4" fill="#f4645c"/>
<rect x="50" y="197" width="1" height="7" fill="#f4645c"/>
<rect x="57" y="189" width="1" height="10" fill="#f4645c"/>
<rect x="59" y="191" width="1" height="1" fill="#25bf73"/>
<rect x="61" y="193" width="1" height="1" fill="#25bf73"/>
<rect x="64" y="183" width="1" height="12" fill="#f4645c"/>
<rect x="66" y="184" width="1" height="37" fill="#25bf73"/>
<rect x="68" y="219" width="1" height="2" fill="#25bf73"/>
<rect x="71" y="210" width="1" height="11" fill="#f4645c"/>
<rect x="75" y="209" width="1" height="4" fill="#25bf73"/>
<rect x="78" y="216" width="1" height="18" fill="#25bf73"/>
<rect x="80" y="237" width="1" height="42" fill="#25bf73"/>
<rect x="82" y="281" width="1" height="94" fill="#25bf73"/>
<rect x="85" y="357" width="1" height="18" fill="#f4645c"/>
<rect x="87" y="357" width="1" height="17" fill="#25bf73"/>
<rect x="89" y="320" width="1" height="54" fill="#f4645c"/>
<rect x="92" y="310" width="1" height="8" fill="#f4645c"/>
<rect x="96" y="305" width="1" height="7" fill="#f4645c"/>
<rect x="99" y="256" width="1" height="48" fill="#f4645c"/>
<rect x="101" y="256" width="1" height="42" fill="#25bf73"/>
<rect x="103" y="294" width="1" height="19" fill="#25bf73"/>
<rect x="106" y="314" width="1" height="29" fill="#25bf73"/>
<rect x="108" y="312" width="1" height="31" fill="#f4645c"/>
<rect x="110" y="312" width="1" height="15" fill="#25bf73"/>
<rect x="113" y="311" width="1" height="14" fill="#f4645c"/>
<rect x="115" y="312" width="1" height="5" fill="#25bf73"/>
<rect x="117" y="315" width="1" height="2" fill="#25bf73"/>
<rect x="120" y="306" width="1" height="11" fill="#f4645c"/>
<rect x="122" y="301" width="1" height="4" fill="#f4645c"/>
<rect x="124" y="295" width="1" height="5" fill="#f4645c"/>
<rect x="127" y="295" width="1" height="26" fill="#25bf73"/>
<rect x="129" y="319" width="1" height="9" fill="#25bf73"/>
<rect x="131" y="329" width="1" height="14" fill="#25bf73"/>
<rect x="134" y="345" width="1" height="1" fill="#25bf73"/>
<rect x="136" y="343" width="1" height="3" fill="#f4645c"/>
<rect x="138" y="339" width="1" height="2" fill="#f4645c"/>
<rect x="141" y="322" width="1" height="15" fill="#f4645c"/>
<rect x="143" y="315" width="1" height="5" fill="#f4645c"/>
<rect x="145" y="315" width="1" height="13" fill="#25bf73"/>
<rect x="147" y="315" width="1" height="12" fill="#f4645c"/>
<rect x="150" y="316" width="1" height="5" fill="#25bf73"/>
<rect x="152" y="317" width="1" height="4" fill="#25bf73"/>
<rect x="154" y="314" width="1" height="7" fill="#f4645c"/>
<rect x="157" y="314" width="1" height="1" fill="#25bf73"/>
<rect x="161" y="317" width="1" height="3" fill="#25bf73"/>
<rect x="164" y="321" width="1" height="13" fill="#25bf73"/>
<rect x="166" y="328" width="1" height="8" fill="#25bf73"/>
<rect x="168" y="330" width="1" height="6" fill="#f4645c"/>
<rect x="171" y="327" width="1" height="2" fill="#f4645c"/>
<rect x="173" y="323" width="1" height="3" fill="#f4645c"/>
<rect x="175" y="323" width="1" height="1" fill="#25bf73"/>
<rect x="180" y="321" width="1" height="6" fill="#f4645c"/>
<rect x="185" y="320" width="1" height="8" fill="#25bf73"/>
<rect x="187" y="324" width="1" height="8" fill="#25bf73"/>
<rect x="189" y="323" width="1" height="10" fill="#f4645c"/>
<rect x="192" y="317" width="1" height="6" fill="#f4645c"/>
<rect x="194" y="307" width="1" height="8" fill="#f4645c"/>
<rect x="196" y="300" width="1" height="6" fill="#f4645c"/>
<rect x="199" y="301" width="1" height="2" fill="#25bf73"/>
<rect x="201" y="305" width="1" height="1" fill="#25bf73"/>
<rect x="203" y="305" width="1" height="3" fill="#25bf73"/>
<rect x="206" y="301" width="1" height="7" fill="#f4645c"/>
<rect x="210" y="303" width="1" height="6" fill="#f4645c"/>
<rect x="213" y="304" width="1" height="5" fill="#25bf73"/>
<rect x="217" y="308" width="1" height="1" fill="#f4645c"/>
<rect x="220" y="301" width="1" height="6" fill="#f4645c"/>
<rect x="224" y="299" width="1" height="8" fill="#f4645c"/>
<rect x="227" y="300" width="1" height="9" fill="#25bf73"/>
<rect x="229" y="311" width="1" height="13" fill="#25bf73"/>
<rect x="231" y="315" width="1" height="9" fill="#f4645c"/>
<rect x="234" y="312" width="1" height="2" fill="#f4645c"/>
<rect x="236" y="308" width="1" height="1" fill="#f4645c"/>
<rect x="238" y="302" width="1" height="6" fill="#f4645c"/>
<rect x="240" y="303" width="1" height="5" fill="#25bf73"/>
<rect x="243" y="310" width="1" height="7" fill="#25bf73"/>
<rect x="245" y="318" width="1" height="9" fill="#25bf73"/>
<rect x="247" y="329" width="1" height="4" fill="#25bf73"/>
<rect x="250" y="334" width="1" height="3" fill="#25bf73"/>
<rect x="254" y="330" width="1" height="6" fill="#f4645c"/>
<rect x="257" y="330" width="1" height="3" fill="#25bf73"/>
<rect x="259" y="326" width="1" height="7" fill="#f4645c"/>
<rect x="266" y="321" width="1" height="2" fill="#f4645c"/>
<rect x="271" y="321" width="1" height="1" fill="#f4645c"/>
<rect x="275" y="313" width="1" height="9" fill="#f4645c"/>
<rect x="278" y="311" width="1" height="2" fill="#f4645c"/>
<rect x="280" y="306" width="1" height="3" fill="#f4645c"/>
<rect x="282" y="297" width="1" height="7" fill="#f4645c"/>
<rect x="285" y="292" width="1" height="3" fill="#f4645c"/>
<rect x="287" y="285" width="1" height="6" fill="#25bf73"/>
<rect x="289" y="285" width="1" height="6" fill="#f4645c"/>
<rect x="294" y="279" width="1" height="7" fill="#f4645c"/>
<rect x="296" y="279" width="1" height="8" fill="#25bf73"/>
<rect x="299" y="283" width="1" height="5" fill="#f4645c"/>
<rect x="301" y="274" width="1" height="7" fill="#f4645c"/>
<rect x="303" y="262" width="1" height="10" fill="#f4645c"/>
<rect x="306" y="258" width="1" height="3" fill="#f4645c"/>
<rect x="308" y="243" width="1" height="13" fill="#f4645c"/>
<rect x="310" y="243" width="1" height="6" fill="#25bf73"/>
<rect x="313" y="247" width="1" height="2" fill="#f4645c"/>
<rect x="317" y="248" width="1" height="3" fill="#25bf73"/>
<rect x="320" y="248" width="1" height="3" fill="#f4645c"/>
<rect x="324" y="243" width="1" height="4" fill="#f4645c"/>
<rect x="327" y="235" width="1" height="7" fill="#f4645c"/>
<rect x="333" y="226" width="1" height="9" fill="#f4645c"/>
<rect x="338" y="226" width="1" height="4" fill="#25bf73"/>
<rect x="340" y="232" width="1" height="1" fill="#25bf73"/>
<rect x="343" y="225" width="1" height="9" fill="#f4645c"/>
<rect x="345" y="216" width="1" height="7" fill="#f4645c"/>
<rect x="347" y="210" width="1" height="5" fill="#f4645c"/>
<rect x="350" y="210" width="1" height="11" fill="#25bf73"/>
<rect x="352" y="223" width="1" height="14" fill="#25bf73"/>
<rect x="354" y="233" width="1" height="4" fill="#f4645c"/>
<rect x="357" y="226" width="1" height="6" fill="#f4645c"/>
<rect x="359" y="226" width="1" height="20" fill="#25bf73"/>
<rect x="361" y="243" width="1" height="7" fill="#25bf73"/>
<rect x="364" y="251" width="1" height="18" fill="#25bf73"/>
<rect x="366" y="265" width="1" height="11" fill="#25bf73"/>
<rect x="368" y="278" width="1" height="27" fill="#25bf73"/>
<rect x="371" y="298" width="1" height="7" fill="#f4645c"/>
<rect x="373" y="298" width="1" height="7" fill="#25bf73"/>
<rect x="375" y="301" width="1" height="3" fill="#25bf73"/>
<rect x="378" y="289" width="1" height="15" fill="#f4645c"/>
<rect x="380" y="289" width="1" height="18" fill="#25bf73"/>
<rect x="382" y="307" width="1" height="35" fill="#25bf73"/>
<rect x="385" y="344" width="1" height="32" fill="#25bf73"/>
<rect x="387" y="378" width="1" height="31" fill="#25bf73"/>
<rect x="389" y="392" width="1" height="19" fill="#f4645c"/>
<rect x="392" y="391" width="1" height="23" fill="#25bf73"/>
<rect x="394" y="405" width="1" height="9" fill="#25bf73"/>
<rect x="396" y="391" width="1" height="23" fill="#f4645c"/>
<rect x="399" y="376" width="1" height="14" fill="#f4645c"/>
<rect x="401" y="377" width="1" height="2" fill="#25bf73"/>
<rect x="406" y="374" width="1" height="5" fill="#f4645c"/>
<rect x="408" y="375" width="1" height="7" fill="#25bf73"/>
<rect x="410" y="378" width="1" height="5" fill="#f4645c"/>
<rect x="413" y="378" width="1" height="1" fill="#25bf73"/>
<rect x="415" y="381" width="1" height="2" fill="#25bf73"/>
<rect x="417" y="368" width="1" height="15" fill="#f4645c"/>
<rect x="420" y="368" width="1" height="3" fill="#25bf73"/>
<rect x="422" y="373" width="1" height="3" fill="#25bf73"/>
<rect x="424" y="360" width="1" height="16" fill="#f4645c"/>
<rect x="426" y="353" width="1" height="6" fill="#f4645c"/>
<rect x="429" y="353" width="1" height="24" fill="#25bf73"/>
<rect x="431" y="379" width="1" height="10" fill="#25bf73"/>
<rect x="433" y="388" width="1" height="1" fill="#f4645c"/>
<rect x="436" y="389" width="1" height="6" fill="#25bf73"/>
<rect x="438" y="387" width="1" height="8" fill="#f4645c"/>
<rect x="440" y="387" width="1" height="3" fill="#25bf73"/>
<rect x="447" y="387" width="1" height="2" fill="#f4645c"/>
<rect x="452" y="380" width="1" height="7" fill="#f4645c"/>
<rect x="461" y="381" width="1" height="5" fill="#25bf73"/>
<rect x="464" y="388" width="1" height="1" fill="#25bf73"/>
<rect x="466" y="391" width="1" height="18" fill="#25bf73"/>
<rect x="468" y="397" width="1" height="12" fill="#f4645c"/>
<rect x="471" y="397" width="1" height="5" fill="#25bf73"/>
<rect x="473" y="404" width="1" height="2" fill="#25bf73"/>
<rect x="475" y="404" width="1" height="2" fill="#f4645c"/>
<rect x="478" y="389" width="1" height="14" fill="#f4645c"/>
<rect x="480" y="387" width="1" height="1" fill="#f4645c"/>
<rect x="482" y="389" width="1" height="4" fill="#25bf73"/>
<rect x="485" y="395" width="1" height="11" fill="#25bf73"/>
<rect x="487" y="397" width="1" height="9" fill="#f4645c"/>
<rect x="489" y="397" width="1" height="1" fill="#25bf73"/>
<rect x="494" y="397" width="1" height="1" fill="#f4645c"/>
<rect x="496" y="387" width="1" height="8" fill="#f4645c"/>
<rect x="499" y="379" width="1" height="7" fill="#f4645c"/>
<rect x="501" y="363" width="1" height="15" fill="#f4645c"/>
<rect x="503" y="355" width="1" height="7" fill="#f4645c"/>
<rect x="506" y="351" width="1" height="3" fill="#f4645c"/>
<rect x="508" y="351" width="1" height="1" fill="#25bf73"/>
<rect x="510" y="342" width="1" height="10" fill="#f4645c"/>
<rect x="515" y="342" width="1" height="3" fill="#25bf73"/>
<rect x="519" y="343" width="1" height="2" fill="#f4645c"/>
<rect x="522" y="334" width="1" height="7" fill="#f4645c"/>
<rect x="524" y="331" width="1" height="1" fill="#f4645c"/>
<rect x="526" y="318" width="1" height="11" fill="#f4645c"/>
<rect x="529" y="309" width="1" height="8" fill="#f4645c"/>
<rect x="531" y="309" width="1" height="14" fill="#25bf73"/>
<rect x="533" y="322" width="1" height="2" fill="#f4645c"/>
<rect x="536" y="317" width="1" height="4" fill="#f4645c"/>
<rect x="538" y="311" width="1" height="5" fill="#f4645c"/>
<rect x="547" y="300" width="1" height="7" fill="#f4645c"/>
<rect x="550" y="297" width="1" height="2" fill="#f4645c"/>
<rect x="554" y="289" width="1" height="4" fill="#f4645c"/>
<rect x="557" y="281" width="1" height="6" fill="#f4645c"/>
<rect x="559" y="281" width="1" height="3" fill="#25bf73"/>
<rect x="561" y="283" width="1" height="5" fill="#f4645c"/>
<rect x="566" y="278" width="1" height="4" fill="#f4645c"/>
<rect x="571" y="274" width="1" height="6" fill="#25bf73"/>
<rect x="573" y="282" width="1" height="7" fill="#25bf73"/>
<rect x="575" y="291" width="1" height="9" fill="#25bf73"/>
<rect x="578" y="302" width="1" height="2" fill="#25bf73"/>
<rect x="580" y="292" width="1" height="12" fill="#f4645c"/>
<rect x="585" y="290" width="1" height="11" fill="#25bf73"/>
<rect x="587" y="301" width="1" height="6" fill="#25bf73"/>
<rect x="589" y="308" width="1" height="26" fill="#25bf73"/>
<rect x="592" y="313" width="1" height="21" fill="#f4645c"/>
<rect x="594" y="313" width="1" height="15" fill="#25bf73"/>
<rect x="599" y="330" width="1" height="7" fill="#25bf73"/>
<rect x="601" y="333" width="1" height="4" fill="#f4645c"/>
<rect x="610" y="317" width="1" height="14" fill="#f4645c"/>
<rect x="615" y="315" width="1" height="1" fill="#f4645c"/>
<rect x="617" y="311" width="1" height="2" fill="#f4645c"/>
<rect x="622" y="309" width="1" height="4" fill="#25bf73"/>
<rect x="624" y="312" width="1" height="1" fill="#f4645c"/>
<rect x="626" y="311" width="1" height="2" fill="#25bf73"/>
<rect x="636" y="304" width="1" height="8" fill="#f4645c"/>
<rect x="638" y="298" width="1" height="4" fill="#f4645c"/>
<rect x="640" y="292" width="1" height="4" fill="#f4645c"/>
<rect x="643" y="292" width="1" height="9" fill="#25bf73"/>
<rect x="645" y="302" width="1" height="10" fill="#25bf73"/>
<rect x="647" y="308" width="1" height="4" fill="#f4645c"/>
<rect x="650" y="302" width="1" height="5" fill="#f4645c"/>
<rect x="652" y="303" width="1" height="2" fill="#25bf73"/>
<rect x="654" y="307" width="1" height="2" fill="#25bf73"/>
<rect x="657" y="307" width="1" height="2" fill="#f4645c"/>
<rect x="661" y="301" width="1" height="7" fill="#f4645c"/>
<rect x="664" y="301" width="1" height="9" fill="#25bf73"/>
<rect x="666" y="305" width="1" height="5" fill="#f4645c"/>
<rect x="668" y="305" width="1" height="6" fill="#25bf73"/>
<rect x="670" y="313" width="1" height="1" fill="#25bf73"/>
<rect x="673" y="312" width="1" height="1" fill="#f4645c"/>
<rect x="675" y="311" width="1" height="4" fill="#25bf73"/>
<rect x="678" y="317" width="1" height="2" fill="#25bf73"/>
<rect x="680" y="321" width="1" height="12" fill="#25bf73"/>
<rect x="682" y="328" width="1" height="5" fill="#f4645c"/>
<rect x="685" y="328" width="1" height="3" fill="#25bf73"/>
<rect x="687" y="333" width="1" height="10" fill="#25bf73"/>
<rect x="689" y="338" width="1" height="5" fill="#f4645c"/>
<rect x="692" y="331" width="1" height="5" fill="#f4645c"/>
<rect x="696" y="327" width="1" height="2" fill="#f4645c"/>
<rect x="699" y="327" width="1" height="7" fill="#25bf73"/>
<rect x="701" y="336" width="1" height="1" fill="#25bf73"/>
<rect x="703" y="338" width="1" height="3" fill="#25bf73"/>
<rect x="710" y="338" width="1" height="5" fill="#f4645c"/>
<rect x="712" y="338" width="1" height="2" fill="#25bf73"/>
<rect x="717" y="337" width="1" height="2" fill="#f4645c"/>
<rect x="719" y="331" width="1" height="4" fill="#f4645c"/>
<rect x="722" y="326" width="1" height="4" fill="#f4645c"/>
<rect x="724" y="323" width="1" height="2" fill="#f4645c"/>
<rect x="726" y="323" width="1" height="3" fill="#25bf73"/>
<rect x="731" y="314" width="1" height="8" fill="#f4645c"/>
<rect x="736" y="312" width="1" height="1" fill="#f4645c"/>
<rect x="740" y="313" width="1" height="8" fill="#25bf73"/>
<rect x="745" y="323" width="1" height="2" fill="#25bf73"/>
<rect x="747" y="317" width="1" height="8" fill="#f4645c"/>
<rect x="750" y="317" width="1" height="2" fill="#25bf73"/>
<rect x="752" y="318" width="1" height="1" fill="#f4645c"/>
<rect x="754" y="318" width="1" height="1" fill="#25bf73"/>
<rect x="759" y="308" width="1" height="11" fill="#f4645c"/>
<rect x="761" y="300" width="1" height="7" fill="#f4645c"/>
<rect x="766" y="292" width="1" height="5" fill="#f4645c"/>
<rect x="768" y="292" width="1" height="8" fill="#25bf73"/>
<rect x="771" y="299" width="1" height="1" fill="#f4645c"/>
<rect x="773" y="299" width="1" height="7" fill="#25bf73"/>
<rect x="775" y="296" width="1" height="10" fill="#f4645c"/>
<rect x="778" y="290" width="1" height="4" fill="#f4645c"/>
<rect x="780" y="290" width="1" height="6" fill="#25bf73"/>
<rect x="782" y="292" width="1" height="4" fill="#f4645c"/>
<rect x="785" y="292" width="1" height="5" fill="#25bf73"/>
<rect x="787" y="299" width="1" height="3" fill="#25bf73"/>
<rect x="792" y="292" width="1" height="10" fill="#f4645c"/>
<rect x="794" y="280" width="1" height="11" fill="#f4645c"/>
<rect x="796" y="275" width="1" height="3" fill="#f4645c"/>
<rect x="798" y="275" width="1" height="3" fill="#25bf73"/>
<rect x="803" y="273" width="1" height="3" fill="#f4645c"/>
<rect x="805" y="267" width="1" height="4" fill="#f4645c"/>
<rect x="808" y="267" width="1" height="14" fill="#25bf73"/>
<rect x="810" y="278" width="1" height="3" fill="#f4645c"/>
<rect x="812" y="272" width="1" height="5" fill="#f4645c"/>
<rect x="817" y="267" width="1" height="4" fill="#f4645c"/>
<rect x="824" y="267" width="1" height="12" fill="#25bf73"/>
<rect x="831" y="277" width="1" height="4" fill="#f4645c"/>
<rect x="0" y="230" width="1" height="6" fill="#7a1616"/>
</g>
<g id="blue" shape-rendering="crispEdges"><path d="M-1 365.5H845" stroke="#929292" stroke-width="1" stroke-dasharray="6 5"/><path d="M0 276.5H845" stroke="#4169e1" stroke-width="1" stroke-dasharray="2 1"/></g>
<g id="axes" shape-rendering="crispEdges">
<rect x="847" y="58" width="1" height="387" fill="#3c3c3c"/>
<rect x="0" y="444" width="848" height="1" fill="#555"/>
<rect x="892" y="58" width="1" height="404" fill="#d9d9d9"/>
<rect x="848" y="71" width="3" height="1" fill="#3c3c3c"/>
<text x="854" y="75.8" font-size="11" fill="#444" stroke="#444" stroke-width="0.15">0.1800</text>
<rect x="848" y="101" width="3" height="1" fill="#3c3c3c"/>
<text x="854" y="105.8" font-size="11" fill="#444" stroke="#444" stroke-width="0.15">0.1700</text>
<rect x="848" y="130" width="3" height="1" fill="#3c3c3c"/>
<text x="854" y="134.8" font-size="11" fill="#444" stroke="#444" stroke-width="0.15">0.1600</text>
<rect x="848" y="160" width="3" height="1" fill="#3c3c3c"/>
<text x="854" y="164.8" font-size="11" fill="#444" stroke="#444" stroke-width="0.15">0.1500</text>
<rect x="848" y="189" width="3" height="1" fill="#3c3c3c"/>
<text x="854" y="193.8" font-size="11" fill="#444" stroke="#444" stroke-width="0.15">0.1400</text>
<rect x="848" y="219" width="3" height="1" fill="#3c3c3c"/>
<text x="854" y="223.8" font-size="11" fill="#444" stroke="#444" stroke-width="0.15">0.1300</text>
<rect x="848" y="248" width="3" height="1" fill="#3c3c3c"/>
<text x="854" y="252.8" font-size="11" fill="#444" stroke="#444" stroke-width="0.15">0.1200</text>
<rect x="848" y="307" width="3" height="1" fill="#3c3c3c"/>
<text x="854" y="311.8" font-size="11" fill="#444" stroke="#444" stroke-width="0.15">0.1000</text>
<rect x="848" y="337" width="3" height="1" fill="#3c3c3c"/>
<text x="854" y="341.8" font-size="11" fill="#444" stroke="#444" stroke-width="0.15">0.0900</text>
<rect x="848" y="396" width="3" height="1" fill="#3c3c3c"/>
<text x="854" y="400.8" font-size="11" fill="#444" stroke="#444" stroke-width="0.15">0.0700</text>
<rect x="848" y="425" width="3" height="1" fill="#3c3c3c"/>
<text x="854" y="429.8" font-size="11" fill="#444" stroke="#444" stroke-width="0.15">0.0600</text>
<rect x="58" y="445" width="1" height="3" fill="#555"/>
<text x="58.5" y="459" font-size="11" font-weight="bold" fill="#555" text-anchor="middle">1997</text>
<rect x="142" y="445" width="1" height="3" fill="#555"/>
<text x="142.5" y="459" font-size="11" font-weight="bold" fill="#555" text-anchor="middle">2000</text>
<rect x="225" y="445" width="1" height="3" fill="#555"/>
<text x="225.5" y="459" font-size="11" font-weight="bold" fill="#555" text-anchor="middle">2003</text>
<rect x="309" y="445" width="1" height="3" fill="#555"/>
<text x="309.5" y="459" font-size="11" font-weight="bold" fill="#555" text-anchor="middle">2006</text>
<rect x="393" y="445" width="1" height="3" fill="#555"/>
<text x="393.5" y="459" font-size="11" font-weight="bold" fill="#555" text-anchor="middle">2009</text>
<rect x="476" y="445" width="1" height="3" fill="#555"/>
<text x="476.5" y="459" font-size="11" font-weight="bold" fill="#555" text-anchor="middle">2012</text>
<rect x="560" y="445" width="1" height="3" fill="#555"/>
<text x="560.5" y="459" font-size="11" font-weight="bold" fill="#555" text-anchor="middle">2015</text>
<rect x="644" y="445" width="1" height="3" fill="#555"/>
<text x="644.5" y="459" font-size="11" font-weight="bold" fill="#555" text-anchor="middle">2018</text>
<rect x="727" y="445" width="1" height="3" fill="#555"/>
<text x="727.5" y="459" font-size="11" font-weight="bold" fill="#555" text-anchor="middle">2021</text>
<rect x="811" y="445" width="1" height="3" fill="#555"/>
<text x="811.5" y="459" font-size="11" font-weight="bold" fill="#555" text-anchor="middle">2024</text>
</g>
<g id="hdr">
<text x="-5.6" y="82.2" font-size="16.2" fill="#555" stroke="#555" stroke-width="0.2">PY,</text>
<text x="24.3" y="82.5" font-size="16.4" fill="#555" stroke="#555" stroke-width="0.2">月</text>
<text x="42.4" y="82.2" font-size="16.2" fill="#555" stroke="#555" stroke-width="0.2">,</text>
<text x="53.5" y="82.7" font-size="16.4" fill="#555" stroke="#555" stroke-width="0.2" textLength="166" lengthAdjust="spacingAndGlyphs">リアルタイム外国為替</text>
<path d="M224.3 75h7.5l-3.75 3.5z" fill="#cbcbcb"/>
<rect x="242" y="70" width="14" height="14" fill="#d9d9d9"/>
<path d="M243.8 77.2c2.3-5 8.2-5 10.5 0c-2.3 5-8.2 5-10.5 0z" fill="#fff"/><circle cx="249.05" cy="77.2" r="2.7" fill="#d9d9d9"/><circle cx="249.05" cy="77.2" r="1.25" fill="#fff"/>
<rect x="259" y="70" width="14" height="14" fill="#d9d9d9"/>
<path d="M269.87 75.91 L271.32 75.97 L271.32 77.83 L269.87 77.89 L269.44 78.94 L270.42 80.01 L269.11 81.32 L268.04 80.34 L266.99 80.77 L266.93 82.22 L265.07 82.22 L265.01 80.77 L263.96 80.34 L262.89 81.32 L261.58 80.01 L262.56 78.94 L262.13 77.89 L260.68 77.83 L260.68 75.97 L262.13 75.91 L262.56 74.86 L261.58 73.79 L262.89 72.48 L263.96 73.46 L265.01 73.03 L265.07 71.58 L266.93 71.58 L266.99 73.03 L268.04 73.46 L269.11 72.48 L270.42 73.79 L269.44 74.86Z M268.10 76.90 A2.1 2.1 0 1 0 263.90 76.90 A2.1 2.1 0 1 0 268.10 76.90Z" fill="#fff" fill-rule="evenodd"/>
<text x="281.2" y="82.6" font-size="14" fill="#555" stroke="#555" stroke-width="0.2">始値</text>
<text x="311.5" y="82.4" font-size="14.4" fill="#651a1a" stroke="#651a1a" stroke-width="0.25">0.0848</text>
<text x="366.4" y="82.6" font-size="14" fill="#555" stroke="#555" stroke-width="0.2">高値</text>
<text x="397.0" y="82.4" font-size="14.4" fill="#651a1a" stroke="#651a1a" stroke-width="0.25">0.0897</text>
<text x="451.3" y="82.6" font-size="14" fill="#555" stroke="#555" stroke-width="0.2">安値</text>
<text x="482.0" y="82.4" font-size="14.4" fill="#651a1a" stroke="#651a1a" stroke-width="0.25">0.0825</text>
<text x="536.8" y="82.6" font-size="14" fill="#555" stroke="#555" stroke-width="0.2">終値</text>
<text x="567.6" y="82.4" font-size="14.4" fill="#651a1a" stroke="#651a1a" stroke-width="0.25">0.0884</text>
<circle cx="758" cy="76" r="3" fill="#a4a4a4"/>
<text x="765.2" y="80" font-size="12" fill="#a4a4a4" textLength="75" lengthAdjust="spacingAndGlyphs">Market Closed</text>
</g>
<g id="ov">
<path d="M511.5 58V444" stroke="#8c8c8c" stroke-width="1" stroke-dasharray="6 5"/>
<rect x="847" y="269" width="44" height="16" fill="#4a6de0"/>
<text x="854" y="281.2" font-size="11" font-weight="bold" fill="#fff">0.1106</text>
<rect x="847" y="358" width="45" height="16" fill="#555"/><rect x="847" y="365" width="3" height="1" fill="#fff"/><rect x="847" y="276" width="3" height="1" fill="#fff"/>
<text x="854" y="370.2" font-size="11" fill="#fff" stroke="#fff" stroke-width="0.25">0.0804</text>
<rect x="479" y="444" width="64" height="18" fill="#555"/>
<rect x="511" y="444" width="1" height="4" fill="#fff"/>
<text x="511.3" y="459" font-size="11" font-weight="bold" fill="#fff" text-anchor="middle">2013-04-01</text>
<circle cx="825.6" cy="239.6" r="7.7" fill="#2196f3"/>
<text x="825.8000000000001" y="242.4" font-size="9.3" font-weight="bold" fill="#fff" stroke="#fff" stroke-width="0.35" text-anchor="middle">P</text>
<circle cx="827.6" cy="259.5" r="7.7" fill="#2196f3"/>
<text x="827.8000000000001" y="262.3" font-size="9.3" font-weight="bold" fill="#fff" stroke="#fff" stroke-width="0.35" text-anchor="middle">P</text>
<circle cx="339.0" cy="415.8" r="13.4" fill="#f5f5f5" fill-opacity="0.8" stroke="#dcdcdc" stroke-width="1"/>
<path d="M341.2 411.5L336.6 415.8L341.2 420.1" fill="none" stroke="#d2d2d2" stroke-width="1.8"/>
<circle cx="372.8" cy="415.8" r="13.4" fill="#f5f5f5" fill-opacity="0.8" stroke="#dcdcdc" stroke-width="1"/>
<path d="M368.3 415.8H377.3" stroke="#d2d2d2" stroke-width="2.2"/>
<circle cx="407.7" cy="415.8" r="13.4" fill="#f5f5f5" fill-opacity="0.8" stroke="#dcdcdc" stroke-width="1"/>
<path d="M411.14 412.60A4.7 4.7 0 1 0 410.43 419.62" fill="none" stroke="#d2d2d2" stroke-width="1.7"/>
<path d="M408.9 413.2h4.6v-4.6z" fill="#d2d2d2"/>
<circle cx="440.9" cy="415.8" r="13.4" fill="#f5f5f5" fill-opacity="0.8" stroke="#dcdcdc" stroke-width="1"/>
<path d="M435.7 415.8H446.09999999999997M440.9 410.6V421.0" stroke="#d2d2d2" stroke-width="2"/>
<circle cx="474.9" cy="415.8" r="13.4" fill="#f5f5f5" fill-opacity="0.8" stroke="#dcdcdc" stroke-width="1"/>
<path d="M472.7 411.5L477.29999999999995 415.8L472.7 420.1" fill="none" stroke="#d2d2d2" stroke-width="1.8"/>
<text x="-0.9" y="426.9" font-size="21.5" font-weight="bold" fill="#111" stroke="#111" stroke-width="0.7" letter-spacing="0.3">ng</text>
<text x="25" y="426.9" font-size="14" fill="#6a6a6a" letter-spacing="-0.2">.com</text>
</g>
</svg>
</body></html>
